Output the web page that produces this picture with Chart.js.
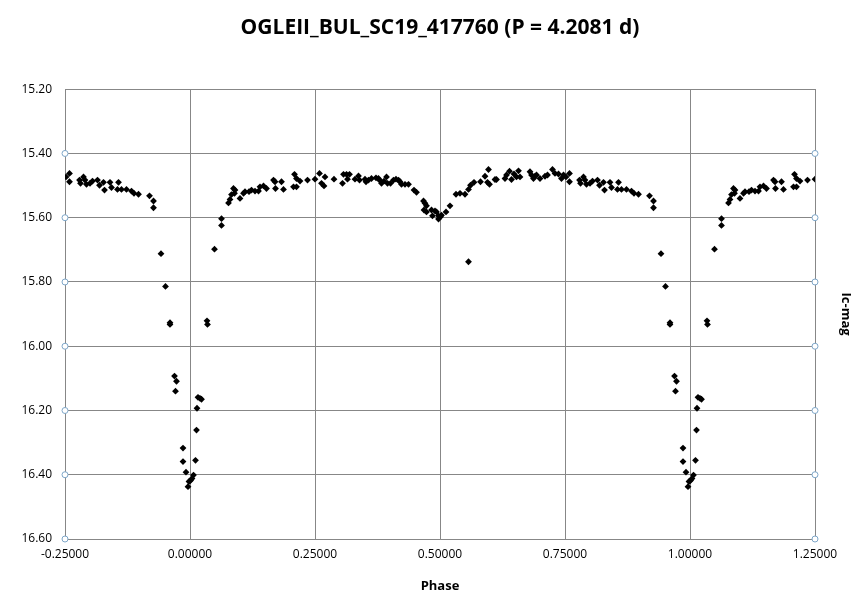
<!DOCTYPE html>
<html>
<head>
<meta charset="utf-8">
<script src="https://cdn.jsdelivr.net/npm/chart.js@4.4.1/dist/chart.umd.min.js"></script>
<style>
  html, body { margin: 0; padding: 0; background: #fff; }
  #wrap { width: 858px; height: 598px; }
</style>
</head>
<body>
<div id="wrap"><canvas id="c" width="858" height="598"></canvas></div>
<script>
const basePhase = [
  0.001,0.004,0.007,0.011,0.013,0.014,0.016,0.020,0.023,0.034,0.035,0.049,0.063,0.063,
  0.077,0.080,0.083,0.087,0.090,0.089,0.100,0.107,0.110,0.118,0.123,0.130,0.137,0.140,
  0.147,0.153,0.167,0.170,0.171,0.183,0.187,0.207,0.209,0.213,0.213,0.220,0.235,
  0.250,0.259,0.263,0.268,0.270,0.288,0.305,0.307,0.313,0.315,0.319,0.330,0.337,0.339,
  0.350,0.352,0.357,0.363,0.372,0.377,0.379,0.383,0.388,0.393,0.395,0.401,0.407,0.412,
  0.417,0.420,0.423,0.430,0.437,0.448,0.453,0.467,0.468,0.470,0.473,0.473,0.483,0.485,
  0.490,0.493,0.497,0.497,0.501,0.503,0.512,0.520,0.532,0.540,0.550,0.557,0.557,0.561,
  0.568,0.581,0.590,0.595,0.597,0.599,0.610,0.613,0.630,0.633,0.639,0.643,0.648,0.653,
  0.657,0.660,0.680,0.683,0.687,0.690,0.693,0.700,0.710,0.715,0.725,0.730,0.737,0.743,
  0.747,0.752,0.759,0.759,0.779,0.781,0.787,0.790,0.793,0.800,0.805,0.815,0.819,0.827,
  0.829,0.840,0.843,0.855,0.857,0.863,0.873,0.883,0.888,0.897,0.919,0.927,0.927,
  0.942,0.951,0.960,0.960,0.969,0.973,0.971,0.986,0.986,0.992,0.996,0.998
];
const baseMag = [
  16.418,16.412,16.401,16.355,16.261,16.193,16.159,16.162,16.165,15.921,15.932,15.698,15.624,15.603,
  15.554,15.543,15.528,15.509,15.514,15.524,15.540,15.524,15.519,15.519,15.514,15.517,15.517,15.504,
  15.501,15.509,15.483,15.488,15.509,15.488,15.512,15.504,15.465,15.478,15.504,15.486,15.483,
  15.480,15.462,15.493,15.501,15.473,15.480,15.493,15.465,15.465,15.480,15.465,15.480,15.470,15.483,
  15.480,15.488,15.483,15.478,15.476,15.478,15.483,15.493,15.486,15.473,15.493,15.493,15.483,15.480,
  15.483,15.488,15.496,15.496,15.496,15.514,15.521,15.548,15.576,15.555,15.563,15.582,15.576,15.594,
  15.579,15.582,15.604,15.594,15.597,15.592,15.582,15.563,15.527,15.524,15.527,15.512,15.737,15.499,
  15.490,15.488,15.471,15.490,15.450,15.496,15.481,15.481,15.478,15.467,15.455,15.481,15.464,15.473,
  15.454,15.473,15.457,15.467,15.478,15.471,15.467,15.478,15.471,15.467,15.450,15.462,15.464,15.478,
  15.467,15.473,15.462,15.488,15.483,15.493,15.473,15.483,15.496,15.493,15.486,15.483,15.499,15.490,
  15.514,15.490,15.506,15.512,15.490,15.512,15.512,15.517,15.524,15.527,15.532,15.548,15.569,
  15.712,15.814,15.927,15.932,16.093,16.109,16.140,16.317,16.359,16.392,16.437,16.421
];
// Axis ticks
const xTicks = [-0.25, 0.0, 0.25, 0.5, 0.75, 1.0, 1.25];
const yTicks = [15.2, 15.4, 15.6, 15.8, 16.0, 16.2, 16.4, 16.6];
// Light-blue open markers sitting on the two vertical edges of the plot
const edgeMarkerMags = [15.4, 15.6, 15.8, 16.0, 16.2, 16.4, 16.6];
const edgePhases = [-0.25, 1.25];

// Phase-folded display: each observation is also shown one cycle earlier/later within the window
const points = [];
for (let i = 0; i < basePhase.length; i++) {
  for (const k of [-1, 0, 1]) {
    const p = basePhase[i] + k;
    if (p >= xTicks[0] && p <= xTicks[xTicks.length - 1]) points.push({ x: p, y: baseMag[i] });
  }
}
const edgePoints = [];
for (const ph of edgePhases) for (const m of edgeMarkerMags) edgePoints.push({ x: ph, y: m });

const FONT = "'Open Sans', 'Liberation Sans', sans-serif";
const GRID = '#878787';

new Chart(document.getElementById('c'), {
  type: 'scatter',
  data: {
    datasets: [
      {
        label: 'Ic-mag',
        data: points,
        pointStyle: 'rectRot',
        pointRadius: 3.4,
        backgroundColor: '#000',
        borderColor: '#000',
        borderWidth: 0,
        yAxisID: 'y'
      },
      {
        label: 'edge',
        data: edgePoints,
        pointStyle: 'circle',
        pointRadius: 3,
        backgroundColor: '#fff',
        borderColor: '#7ea6c8',
        borderWidth: 1,
        clip: false,
        yAxisID: 'y'
      }
    ]
  },
  options: {
    responsive: false,
    animation: false,
    layout: { padding: 0 },
    plugins: {
      legend: { display: false },
      tooltip: { enabled: false },
      title: {
        display: true,
        fullSize: false,
        text: 'OGLEII_BUL_SC19_417760 (P = 4.2081 d)',
        color: '#000',
        font: { family: FONT, size: 21, weight: 'bold' },
        padding: { top: 15, bottom: 49 }
      }
    },
    scales: {
      x: {
        type: 'linear',
        min: xTicks[0],
        max: xTicks[xTicks.length - 1],
        afterBuildTicks: (s) => { s.ticks = xTicks.map(v => ({ value: v })); },
        afterFit: (s) => { s.height = 59; },
        grid: { color: GRID, lineWidth: 1, drawTicks: false },
        border: { color: GRID },
        ticks: {
          color: '#000',
          padding: 8,
          font: { family: FONT, size: 12 },
          callback: (v) => Number(v).toFixed(5)
        },
        title: {
          display: true,
          text: 'Phase',
          color: '#000',
          font: { family: FONT, size: 13, weight: 'bold' },
          padding: { top: 0, bottom: 4 }
        }
      },
      y: {
        type: 'linear',
        position: 'left',
        reverse: true,
        min: yTicks[0],
        max: yTicks[yTicks.length - 1],
        afterBuildTicks: (s) => { s.ticks = yTicks.map(v => ({ value: v })); },
        afterFit: (s) => { s.width = 65; },
        grid: { color: GRID, lineWidth: 1, drawTicks: false },
        border: { color: GRID },
        ticks: {
          color: '#000',
          padding: 13,
          font: { family: FONT, size: 12 },
          callback: (v) => Number(v).toFixed(2)
        }
      },
      y2: {
        type: 'linear',
        position: 'right',
        reverse: true,
        min: yTicks[0],
        max: yTicks[yTicks.length - 1],
        afterFit: (s) => { s.width = 43; },
        grid: { display: false, drawTicks: false },
        border: { display: true, color: GRID },
        ticks: { display: false },
        title: {
          display: true,
          text: 'Ic-mag',
          color: '#000',
          font: { family: FONT, size: 13, weight: 'bold' },
          padding: 4
        }
      }
    }
  }
});
</script>
</body>
</html>
